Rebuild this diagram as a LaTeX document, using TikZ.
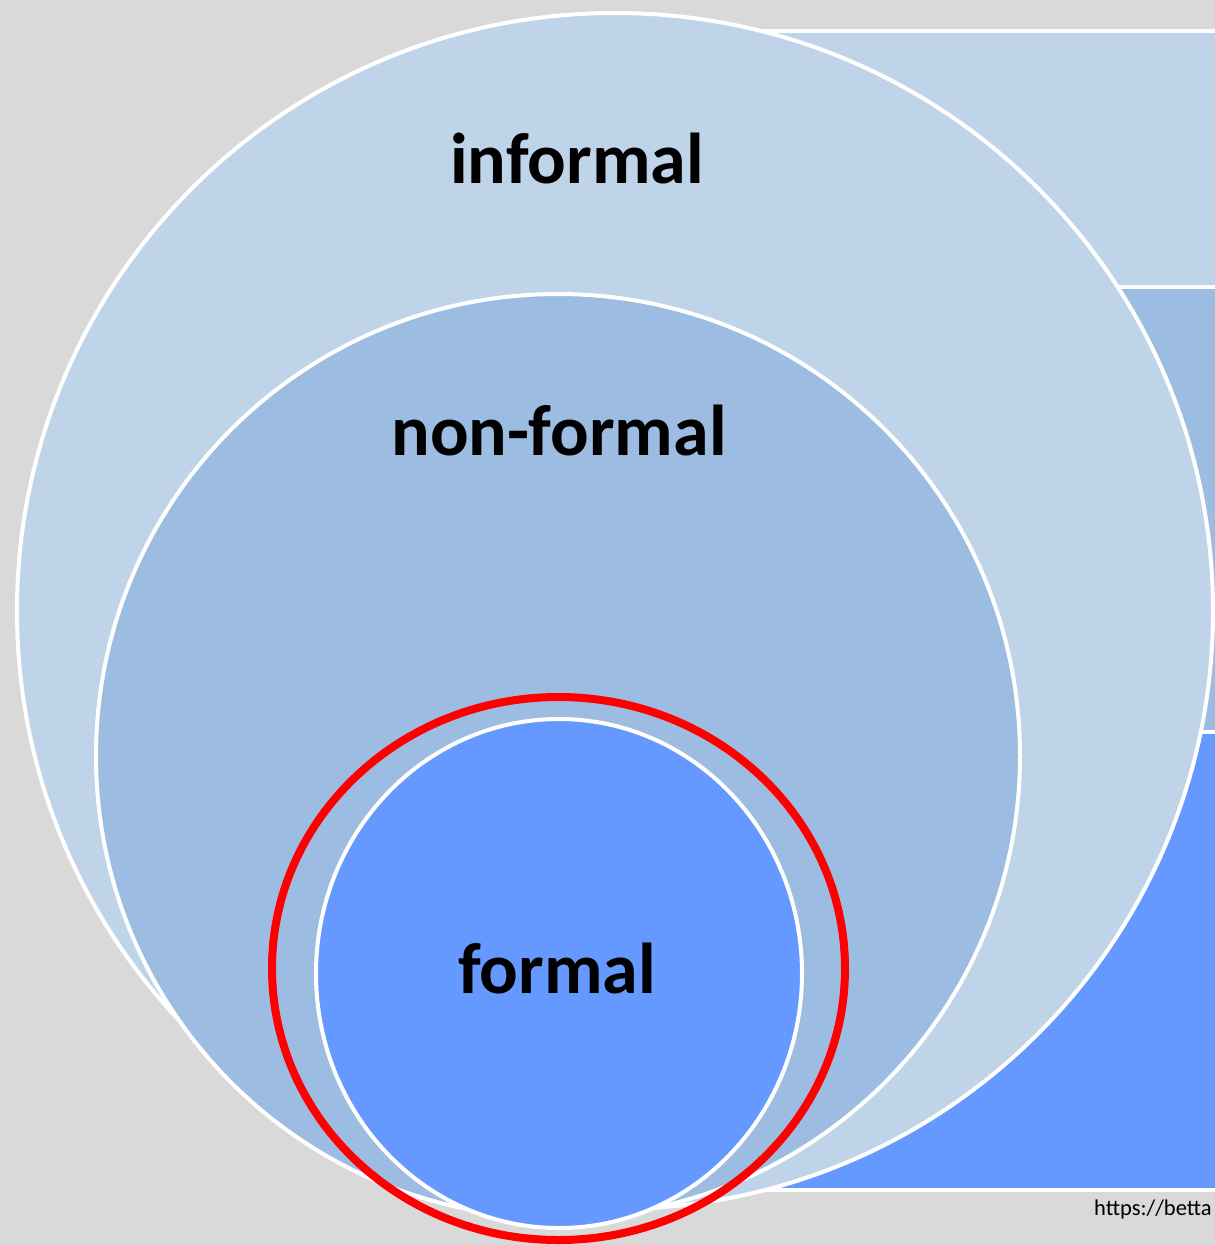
\documentclass[tikz,border=0pt]{standalone}
\usepackage{fontspec}
\usetikzlibrary{shapes.geometric}
\setmainfont{Carlito}
\definecolor{bggray}{HTML}{D9D9D9}
\definecolor{lightblue}{HTML}{BFD4E8}
\definecolor{midblue}{HTML}{9DBCE2}
\definecolor{strongblue}{HTML}{6699FF}
\definecolor{ringred}{HTML}{FF0000}
\tikzset{
  panel/.style={draw=white, line width=4pt},
  disc/.style={circle, draw=white, line width=4pt, inner sep=0pt, outer sep=0pt},
  label/.style={font=\fontsize{72}{80}\selectfont\bfseries, text=black, anchor=base, inner sep=0pt},
}
\begin{document}
\begin{tikzpicture}[x=1pt, y=-1pt]
\useasboundingbox (0,0) rectangle (1215,1245);
\fill[bggray] (0,0) rectangle (1215,1245);
% right-hand bands
\draw[panel, fill=lightblue] (700,31) rectangle (1240,287);
\draw[panel, fill=midblue] (700,287) rectangle (1240,732);
\draw[panel, fill=strongblue] (700,732) rectangle (1240,1190);
% circles
\node[disc, fill=lightblue, minimum size=1196pt] (informal) at (615,611) {};
\node[disc, fill=midblue, minimum size=924pt] (nonformal) at (558,756) {};
\node[disc, ellipse, fill=strongblue, minimum width=486pt, minimum height=509pt] (formal) at (559,973.5) {};
% red highlight ring
\node[ellipse, draw=ringred, line width=8pt, minimum width=573pt, minimum height=543pt, inner sep=0pt] (ring) at (558.5,968.5) {};
% labels
\node[label] (tinformal) at (577,183) {informal};
\node[label] (tnonformal) at (559,455) {non-formal};
\node[label] (tformal) at (557,993) {formal};
\node[anchor=base west, inner sep=0pt, font=\fontsize{22.5}{26}\selectfont] (url) at (1094,1215) {https://betta};
\end{tikzpicture}
\end{document}
